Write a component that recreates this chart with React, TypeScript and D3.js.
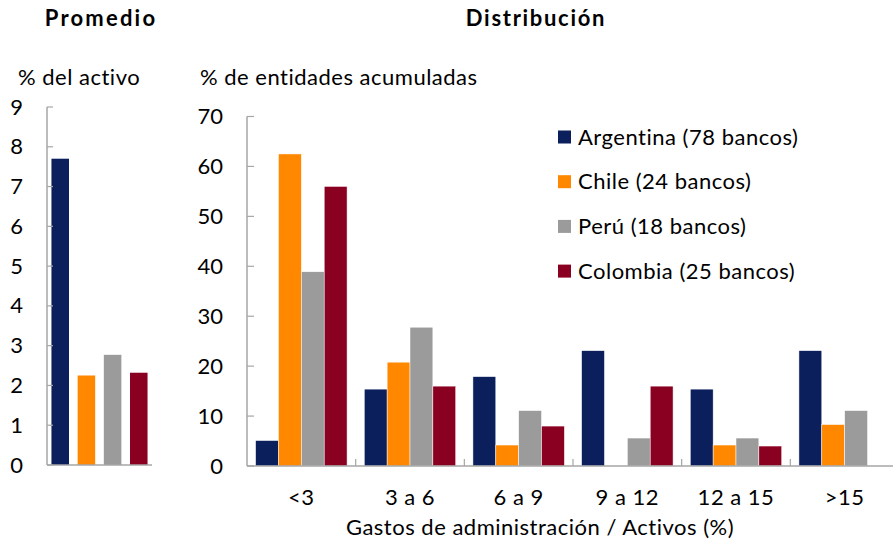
import React from "react";
import * as d3 from "d3";

const series = ["Argentina", "Chile", "Perú", "Colombia"];
const legendLabels = ["Argentina (78 bancos)", "Chile (24 bancos)", "Perú (18 bancos)", "Colombia (25 bancos)"];
const colors = ["#0a1f5c", "#ff8800", "#9b9b9b", "#8a0020"];

const promedio = [7.7, 2.25, 2.77, 2.32];
const promedioTicks = [0, 1, 2, 3, 4, 5, 6, 7, 8, 9];

const categories = ["<3", "3 a 6", "6 a 9", "9 a 12", "12 a 15", ">15"];
const argentina = [5.1, 15.4, 17.9, 23.1, 15.4, 23.1];
const chile = [62.5, 20.8, 4.2, 0, 4.2, 8.3];
const peru = [38.9, 27.8, 11.1, 5.6, 5.6, 11.1];
const colombia = [56.0, 16.0, 8.0, 16.0, 4.0, 0];
const distTicks = [0, 10, 20, 30, 40, 50, 60, 70];

const FONT = "Lato, 'Open Sans', sans-serif";
const AXIS = "#a6a6a6";

export default function App() {
  const W = 893, H = 542;
  // Left panel
  const lx0 = 47, lx1 = 152, lyTop = 107, lyBot = 465;
  const ly = d3.scaleLinear().domain([0, 9]).range([lyBot, lyTop]);
  const lxb = d3.scaleBand<string>().domain(series).range([lx0, lx1]).paddingInner(0.33).paddingOuter(0.17);

  // Right panel
  const rx0 = 247, rx1 = 899, ryTop = 116.5, ryBot = 466;
  const ry = d3.scaleLinear().domain([0, 70]).range([ryBot, ryTop]);
  const rxb = d3.scaleBand<string>().domain(categories).range([rx0, rx1]);
  const inner = d3.scaleBand<string>().domain(series).range([0, rxb.bandwidth()]).paddingOuter(0.376);
  const dist = [argentina, chile, peru, colombia];

  const fs = 22;
  const ls = 0.5;
  const capOff = 7.5;
  return (
    <svg width={W} height={H} style={{ position: "absolute", left: 0, top: 0, fontFamily: FONT }}>
      <rect width={W} height={H} fill="#fff" />
      {/* Titles */}
      <text x={101} y={26} fontSize={22} fontWeight="bold" textAnchor="middle" letterSpacing={2.2}>Promedio</text>
      <text x={536} y={26} fontSize={22} fontWeight="bold" textAnchor="middle" letterSpacing={1.7}>Distribución</text>
      <text x={18} y={85} fontSize={fs} letterSpacing={ls}>% del activo</text>
      <text x={200} y={85} fontSize={fs} letterSpacing={ls}>% de entidades acumuladas</text>

      {/* Left panel */}
      {series.map((s, i) => (
        <rect key={s} x={lxb(s)} y={ly(promedio[i])} width={lxb.bandwidth()} height={ly(0) - ly(promedio[i])} fill={colors[i]} />
      ))}
      <line x1={lx0} x2={lx0} y1={lyTop} y2={lyBot} stroke={AXIS} strokeWidth={1.5} />
      <line x1={lx0} x2={lx1} y1={lyBot} y2={lyBot} stroke={AXIS} strokeWidth={1.5} />
      {promedioTicks.map((t) => (
        <g key={t}>
          <line x1={lx0} x2={lx0 + 6} y1={ly(t)} y2={ly(t)} stroke={AXIS} strokeWidth={1.2} />
          <text x={lx0 - 24} y={ly(t) + capOff} fontSize={fs} textAnchor="end">{t}</text>
        </g>
      ))}

      {/* Right panel */}
      {categories.map((c, ci) => (
        <g key={c} transform={`translate(${rxb(c)},0)`}>
          {series.map((s, si) => {
            const v = dist[si][ci];
            if (v <= 0) return null;
            return (
              <rect key={s} x={inner(s)} y={ry(v)} width={inner.bandwidth()} height={ry(0) - ry(v)} fill={colors[si]} stroke="#fff" strokeWidth={0.5} />
            );
          })}
          <text x={rxb.bandwidth() / 2} y={505} fontSize={fs} textAnchor="middle" letterSpacing={ls}>{c}</text>
          {ci > 0 && <line x1={0} x2={0} y1={ryBot} y2={ryBot - 7} stroke={AXIS} strokeWidth={1.2} />}
        </g>
      ))}
      <line x1={rx0} x2={rx0} y1={ryTop} y2={ryBot} stroke={AXIS} strokeWidth={1.5} />
      <line x1={rx0} x2={W} y1={ryBot} y2={ryBot} stroke={AXIS} strokeWidth={1.5} />
      {distTicks.map((t) => (
        <g key={t}>
          <line x1={rx0} x2={rx0 + 7} y1={ry(t)} y2={ry(t)} stroke={AXIS} strokeWidth={1.2} />
          <text x={rx0 - 24} y={ry(t) + capOff} fontSize={fs} textAnchor="end">{t}</text>
        </g>
      ))}
      <text x={540} y={535} fontSize={fs} textAnchor="middle" letterSpacing={ls}>Gastos de administración / Activos (%)</text>

      {/* Legend */}
      {legendLabels.map((l, i) => (
        <g key={l} transform={`translate(558, ${137 + i * 44.7})`}>
          <rect x={0} y={-6.5} width={13} height={13} fill={colors[i]} />
          <text x={20} y={capOff} fontSize={fs} letterSpacing={ls}>{l}</text>
        </g>
      ))}
    </svg>
  );
}
